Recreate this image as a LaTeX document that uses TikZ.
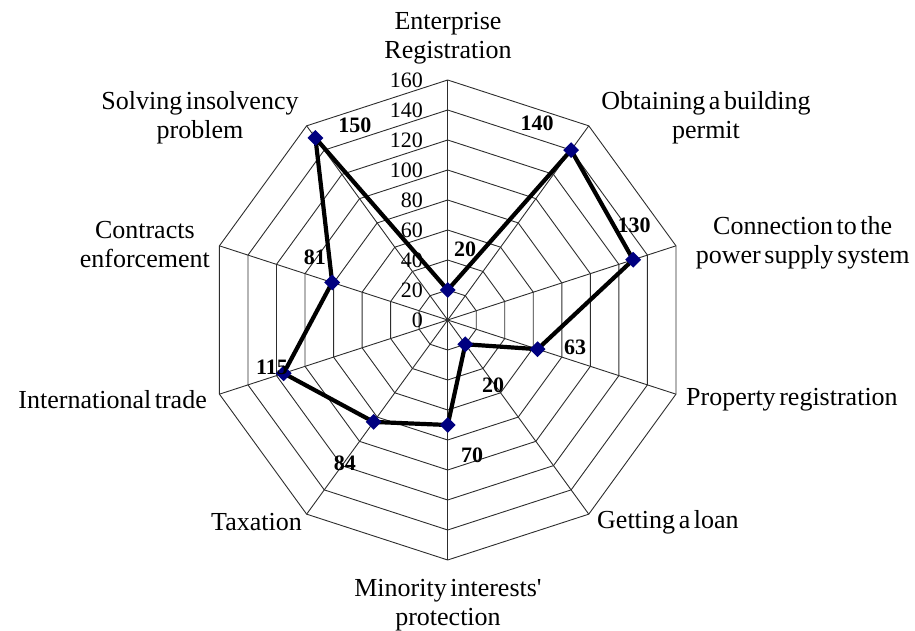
\documentclass[tikz,border=0pt]{standalone}
\usepackage{fontspec}
\setmainfont[WordSpace=0.55, Ligatures=TeXOff]{Liberation Serif}
\usetikzlibrary{shapes.geometric}
\definecolor{navymark}{RGB}{0,0,128}
\definecolor{gridcol}{RGB}{45,45,45}
\begin{document}
\begin{tikzpicture}[x=1pt,y=1pt,
  gridline/.style={draw=gridcol, line width=0.9pt},
  dataline/.style={draw=black, line width=4.2pt, line join=miter},
  marker/.style={diamond, fill=navymark, draw=none, minimum width=16pt, minimum height=16pt, inner sep=0pt},
  catlabel/.style={font=\fontsize{26}{29}\selectfont, align=center, inner sep=0pt},
  ticklabel/.style={font=\fontsize{22}{24}\selectfont, anchor=east, inner sep=0pt},
  datalabel/.style={font=\fontsize{22}{24}\selectfont\bfseries, inner sep=0pt}]
\useasboundingbox (-447.7,-311) rectangle (467.3,320);
% rings
\foreach \k in {1,...,8} {
  \draw[gridline] (90:30*\k) \foreach \a in {54,18,-18,-54,-90,-126,-162,162,126} { -- (\a:30*\k) } -- cycle;
}
% spokes
\coordinate (c) at (0,0);
\foreach \a [count=\i] in {90,54,18,-18,-54,-90,-126,-162,162,126} {
  \coordinate (s\i) at (\a:240);
  \draw[gridline] (c) -- (s\i);
}
% tick labels
\foreach \k in {0,...,8} {
  \pgfmathtruncatemacro{\v}{20*\k}
  \node[ticklabel] (t\k) at (-24.5,30*\k) {\v};
}
% data points
\foreach \a/\v [count=\i] in {90/20,54/140,18/130,-18/63,-54/20,-90/70,-126/84,-162/115,162/81,126/150} {
  \coordinate (d\i) at (\a:1.5*\v);
}
\draw[dataline] (d1) -- (d2) -- (d3) -- (d4) -- (d5) -- (d6) -- (d7) -- (d8) -- (d9) -- (d10) -- cycle;
\foreach \i in {1,...,10} { \node[marker] (m\i) at (d\i) {}; }
% data labels
\node[datalabel] (l1) at (17.3,71) {20};
\node[datalabel] (l2) at (89.3,197) {140};
\node[datalabel] (l3) at (186.3,95) {130};
\node[datalabel] (l4) at (127.3,-27) {63};
\node[datalabel] (l5) at (45.3,-65) {20};
\node[datalabel] (l6) at (24.3,-135) {70};
\node[datalabel] (l7) at (-102.7,-143) {84};
\node[datalabel] (l8) at (-175.7,-47) {115};
\node[datalabel] (l9) at (-132.7,63) {81};
\node[datalabel] (l10) at (-92.7,195) {150};
% category labels
\node[catlabel] (cat1) at (0.3,282) {Enterprise\\Registration};
\node[catlabel] (cat2) at (258.3,202) {Obtaining a building\\permit};
\node[catlabel] (cat3) at (355,77) {Connection to the\\power supply system};
\node[catlabel, anchor=west] (cat4) at (238.3,-80) {Property registration};
\node[catlabel, anchor=west] (cat5) at (149.3,-202) {Getting a loan};
\node[catlabel] (cat6) at (0.3,-285) {Minority interests'\\protection};
\node[catlabel, anchor=east] (cat7) at (-145.7,-202) {Taxation};
\node[catlabel, anchor=east] (cat8) at (-240.7,-80) {International trade};
\node[catlabel, anchor=east] (cat9) at (-237.7,75) {Contracts\\enforcement};
\node[catlabel] (cat10) at (-247.7,202) {Solving insolvency\\problem};
\end{tikzpicture}
\end{document}
